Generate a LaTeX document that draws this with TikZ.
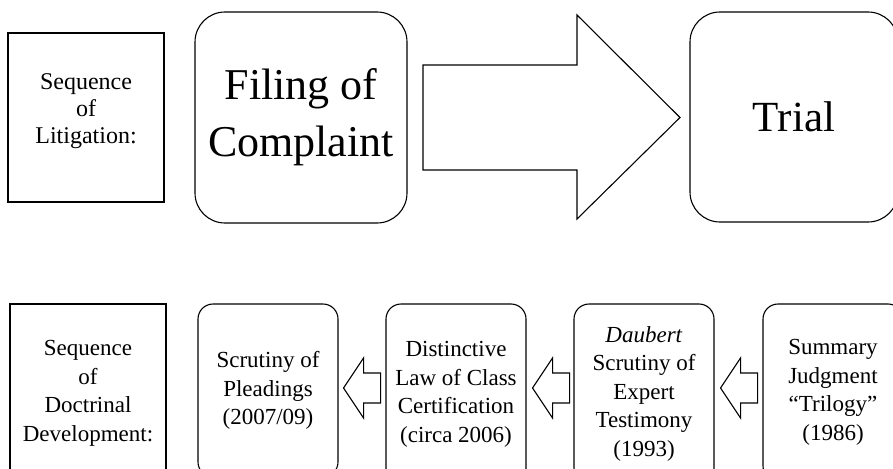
\documentclass[tikz,border=0pt]{standalone}
\usepackage{fontspec}
\setmainfont{Liberation Serif}
\usetikzlibrary{calc}
\newcommand\myleftarrow[1]{%
  \draw[blockarrow] (#1) -- ++(20,-30) -- ++(0,15) -- ++(17,0) -- ++(0,30) -- ++(-17,0) -- ++(0,15) -- cycle;}
\begin{document}
\begin{tikzpicture}[x=1pt,y=-1pt,
  line width=1.1pt,
  plainbox/.style={draw, line width=1.1pt, align=center, inner sep=0pt},
  bigbox/.style={plainbox, rounded corners=30pt},
  smallbox/.style={plainbox, rounded corners=15pt, minimum width=140pt},
  labfont/.style={font=\fontsize{24}{27}\selectfont},
  botfont/.style={font=\fontsize{23}{28.5}\selectfont},
  blockarrow/.style={draw, line width=1.1pt, line join=miter}]
\useasboundingbox (0,0) rectangle (893,468);
\clip (0,0) rectangle (893,468);

% top row
\node[plainbox, minimum width=156pt, minimum height=169pt] (seqlit) at (86,117.5) {};
\node[labfont, align=center, inner sep=0pt] (seqlittext) at ($(seqlit.center)+(0,-6)$) {Sequence\\of\\Litigation:};
\node[bigbox, font=\fontsize{44}{57}\selectfont, minimum width=212pt, minimum height=211pt] (filing) at (301,117.5) {Filing of\\Complaint};
\node[bigbox, font=\fontsize{43}{50}\selectfont, minimum width=208pt, minimum height=210pt] (trial) at (794,117) {Trial};
\coordinate (bigtail) at (423,117.5);
\coordinate (bigtip) at (680,117.5);
\draw[blockarrow] (bigtail) ++(0,-52.5) -- (577,65) -- (577,15) -- (bigtip) -- (577,219) -- (577,170) -- (423,170) -- cycle;

% bottom row (tops at y=304, bottoms run past the lower edge)
\node[plainbox, botfont, minimum width=156pt, minimum height=179pt] (seqdoc) at (88,393.5) {Sequence\\of\\Doctrinal\\Development:};
\node[smallbox, botfont, minimum height=173pt] (plead) at (268,390.5) {Scrutiny of\\Pleadings\\(2007/09)};
\node[smallbox, botfont, minimum height=181pt] (classc) at (456,394.5) {Distinctive\\Law of Class\\Certification\\(circa 2006)};
\node[smallbox, botfont, minimum height=179pt] (daub) at (644,393.5) {\textit{Daubert}\\Scrutiny of\\Expert\\Testimony\\(1993)};
\node[smallbox, botfont, minimum height=177pt] (summ) at (833,392.5) {Summary\\Judgment\\``Trilogy''\\(1986)};

\coordinate (arrowrow) at (0,388);
\coordinate (t1) at ($(plead.east |- arrowrow)+(5,0)$);
\coordinate (t2) at ($(classc.east |- arrowrow)+(6,0)$);
\coordinate (t3) at ($(daub.east |- arrowrow)+(6,0)$);
\myleftarrow{t1}
\myleftarrow{t2}
\myleftarrow{t3}
\end{tikzpicture}
\end{document}
